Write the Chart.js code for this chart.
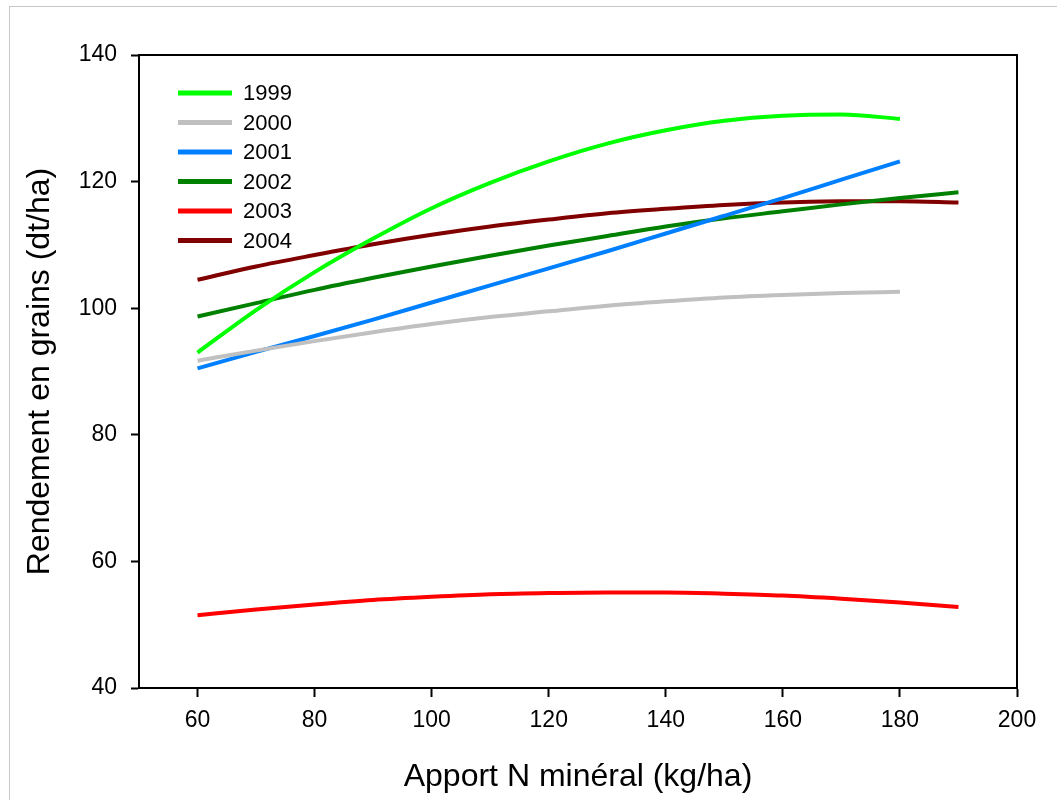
<!DOCTYPE html>
<html>
<head>
<meta charset="utf-8">
<script src="https://cdn.jsdelivr.net/npm/chart.js@4.4.1/dist/chart.umd.min.js"></script>
<style>
  body { margin: 0; background: #fff; }
  #wrap { position: relative; width: 1057px; height: 800px; overflow: hidden; }
  #frame { position: absolute; left: 9px; top: 6px; width: 1200px; height: 900px;
           border-left: 1px solid #c8c8c8; border-top: 1px solid #c8c8c8; }
  canvas { position: absolute; left: 0; top: 0; }
</style>
</head>
<body>
<div id="wrap">
  <div id="frame"></div>
  <canvas id="chart" width="1057" height="800"></canvas>
</div>
<script>
// N rates (kg/ha)
const nShort = [60, 70, 80, 90, 100, 110, 120, 130, 140, 150, 160, 170, 180];
const nLong = [60, 70, 80, 90, 100, 110, 120, 130, 140, 150, 160, 170, 180, 190];

// yields (dt/ha)
const y1999 = [93.0, 99.7, 105.7, 111.0, 115.8, 119.8, 123.2, 126.0, 128.1, 129.6, 130.4, 130.6, 129.9];
const y2000 = [91.7, 93.3, 94.8, 96.2, 97.5, 98.6, 99.5, 100.4, 101.1, 101.7, 102.1, 102.4, 102.6];
const y2001 = [90.5, 93.1, 95.6, 98.2, 100.9, 103.6, 106.3, 109.0, 111.8, 114.6, 117.4, 120.3, 123.2];
const y2002 = [98.7, 100.8, 102.9, 104.8, 106.6, 108.3, 109.9, 111.4, 112.9, 114.2, 115.3, 116.4, 117.4, 118.3];
const y2003 = [51.5, 52.4, 53.2, 53.9, 54.4, 54.8, 55.0, 55.1, 55.1, 54.9, 54.6, 54.1, 53.5, 52.8];
const y2004 = [104.5, 106.6, 108.4, 110.1, 111.6, 112.9, 114.0, 115.0, 115.7, 116.3, 116.7, 116.9, 116.9, 116.7];

const years = ["1999", "2000", "2001", "2002", "2003", "2004"];
const colors = ["#00ff00", "#c0c0c0", "#0080ff", "#008000", "#ff0000", "#800000"];
const seriesX = [nShort, nShort, nShort, nLong, nLong, nLong];
const seriesY = [y1999, y2000, y2001, y2002, y2003, y2004];

const xTicks = [60, 80, 100, 120, 140, 160, 180, 200];
const yTicks = [40, 60, 80, 100, 120, 140];

const FONT = "'Liberation Sans', Arial, sans-serif";

const datasets = years.map((yr, i) => ({
  label: yr,
  data: seriesX[i].map((x, j) => ({ x: x, y: seriesY[i][j] })),
  borderColor: colors[i],
  backgroundColor: colors[i],
  borderWidth: 4,
  pointRadius: 0,
  cubicInterpolationMode: "monotone",
  fill: false
}));

// box around the plot area
const framePlugin = {
  id: "frame",
  afterDraw(chart) {
    const a = chart.chartArea;
    const ctx = chart.ctx;
    ctx.save();
    ctx.strokeStyle = "#000";
    ctx.lineWidth = 2;
    ctx.strokeRect(a.left, a.top, a.right - a.left, a.bottom - a.top);
    ctx.restore();
  }
};

// legend inside the plot, top left
const legendPlugin = {
  id: "innerLegend",
  afterDatasetsDraw(chart) {
    const ctx = chart.ctx;
    ctx.save();
    ctx.font = "22px " + FONT;
    ctx.textBaseline = "middle";
    ctx.textAlign = "left";
    chart.data.datasets.forEach((d, i) => {
      const y = 93 + i * 29.5;
      ctx.strokeStyle = d.borderColor;
      ctx.lineWidth = 5;
      ctx.beginPath();
      ctx.moveTo(178, y);
      ctx.lineTo(232, y);
      ctx.stroke();
      ctx.fillStyle = "#000";
      ctx.fillText(d.label, 243, y + 1);
    });
    ctx.restore();
  }
};

new Chart(document.getElementById("chart"), {
  type: "line",
  data: { datasets: datasets },
  options: {
    responsive: false,
    animation: false,
    layout: { padding: { top: 55, right: 40, left: 0, bottom: 0 } },
    plugins: { legend: { display: false }, tooltip: { enabled: false } },
    scales: {
      x: {
        type: "linear",
        min: 50,
        max: 200,
        afterBuildTicks: s => { s.ticks = xTicks.map(v => ({ value: v })); },
        afterFit: s => { s.height = 112; },
        border: { display: true, color: "#000", width: 2 },
        grid: { drawOnChartArea: false, drawTicks: true, tickLength: 9, tickColor: "#000", tickWidth: 2 },
        ticks: { color: "#000", padding: 10, maxRotation: 0, font: { family: FONT, size: 23 } },
        title: { display: true, text: "Apport N minéral (kg/ha)", color: "#000",
                 font: { family: FONT, size: 32 }, padding: { top: 0, bottom: 4 } }
      },
      y: {
        type: "linear",
        min: 40,
        max: 140,
        afterBuildTicks: s => { s.ticks = yTicks.map(v => ({ value: v })); },
        afterFit: s => { s.width = 139; },
        border: { display: true, color: "#000", width: 2 },
        grid: { drawOnChartArea: false, drawTicks: true, tickLength: 8, tickColor: "#000", tickWidth: 2 },
        ticks: { color: "#000", padding: 14, font: { family: FONT, size: 23 } },
        title: { display: true, text: "Rendement en grains (dt/ha)", color: "#000",
                 font: { family: FONT, size: 32 }, padding: { top: 21, bottom: 0 } }
      }
    }
  },
  plugins: [framePlugin, legendPlugin]
});
</script>
</body>
</html>
